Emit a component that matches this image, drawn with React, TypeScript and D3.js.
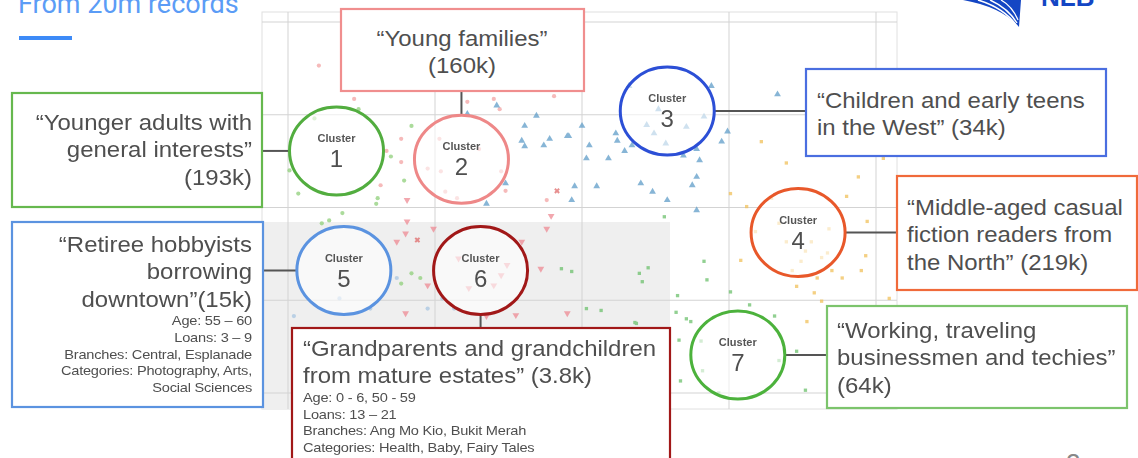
import * as d3 from "d3";

// ---- scatter data (component space, gridlines at -2..2) ----
const gridTicks = [-2, -1, 0, 1, 2];

const cluster1Points: [number, number][] = [
  [-1.16, 0.88], [-1.3, 0.55], [-1.99, 0.4], [-1.39, 0.1], [-1.21, 0.29], [-1.72, -0.14],
  [-1.77, -0.17], [-1.63, -0.06], [-1.4, 0.04], [-1.16, -0.71], [-1.1, -0.76], [-1.23, -0.82],
  [-1.52, 1.06], [-1.82, 0.96], [-1.93, 0.15],
];
const cluster2Points: [number, number][] = [
  [-1.79, 1.53], [-1.55, 1.17], [-1.23, 0.74], [-1.23, 0.49], [-1.33, 0.61], [-1.37, 0.24],
  [-0.78, 1.14], [-0.6, 1.17], [-0.56, 1.06], [-0.19, 1.2], [-0.55, 0.39], [-0.52, 0.18],
  [-0.24, 0.08], [-0.85, 0.1], [-0.93, 0.17], [-0.96, 0.39], [-1.05, 0.42], [-0.97, 0.74], [-0.7, 0.63],
];
const cluster2Crosses: [number, number][] = [[-0.17, 0.18], [-1.12, -0.35]];
const cluster3Points: [number, number][] = [
  [1.33, 1.22], [0.0, 0.88], [-0.09, 0.77], [0.05, 0.67], [0.03, 0.53], [0.23, 0.8], [0.24, 0.72],
  [0.29, 0.61], [0.34, 0.67], [0.44, 0.89], [0.57, 0.69], [0.69, 0.56], [0.78, 0.63], [0.8, 0.51],
  [0.95, 0.71], [0.99, 0.82], [0.83, 0.98], [0.88, 1.31], [0.32, 1.31], [-0.05, 0.23], [0.1, 0.23],
  [0.4, 0.26], [0.48, 0.17], [0.58, 0.08], [0.75, 0.24], [0.78, 0.33], [0.78, -0.03], [-0.07, 0.08],
  [-0.78, 1.01], [-0.58, 1.1], [-0.39, 0.88], [-0.31, 0.99], [-0.41, 0.72], [-0.39, 0.66], [-0.1, 0.77],
  [-0.52, 0.26], [-0.65, 0.04], [-0.22, 0.74], [-0.26, 0.67], [0.18, 0.53], [0.52, 1.06], [0.49, 0.8], [0.71, 0.87],
];
const cluster4Points: [number, number][] = [
  [1.22, 0.71], [1.39, 0.48], [1.88, 0.33], [1.01, 0.15], [1.12, 0.01], [1.8, 0.12], [1.94, -0.15],
  [1.29, 0.1], [1.08, -0.57], [1.93, -0.52], [1.9, -0.68], [1.77, -0.76], [1.7, -0.68], [1.6, -0.76],
  [1.58, -0.92], [1.46, -0.85], [1.43, -0.68], [1.63, -0.54], [1.67, -0.49], [1.52, -0.47], [1.49, -0.58],
  [1.18, -0.26], [1.39, -0.37], [1.56, -0.37], [1.53, -1.23], [1.63, -1.01], [2.05, 0.53], [2.09, -0.98],
  [1.34, -0.17], [1.68, -0.23],
];
const cluster5Points: [number, number][] = [
  [-1.26, -0.76], [-1.05, -1.09], [-1.44, -1.09], [-1.96, -1.17], [-0.95, -0.98], [-0.87, -1.09], [-1.65, -0.98],
];
const cluster6Points: [number, number][] = [
  [-1.19, 0.08], [-0.21, -0.09], [-1.19, -0.15], [-1.01, -0.23], [-0.24, -0.23], [-1.26, -0.37],
  [-1.2, -0.28], [-1.05, -0.84], [-0.28, -0.66], [-0.41, -0.37], [-1.2, -1.14], [-0.45, -1.16],
  [-0.1, -1.14], [-0.65, -1.17], [-0.55, -0.73], [-0.6, -0.84], [-0.51, -0.62], [-0.84, -0.55], [-0.77, -0.87],
];
const cluster7Points: [number, number][] = [
  [0.56, -0.1], [0.83, -0.58], [0.85, -0.78], [1.01, -0.91], [0.65, -0.95], [0.39, -0.71], [0.45, -0.65],
  [0.41, -0.8], [0.03, -1.09], [0.13, -1.11], [0.36, -1.24], [0.64, -1.13], [0.71, -1.2], [0.74, -1.23],
  [0.66, -1.43], [0.67, -1.87], [1.14, -1.05], [1.31, -1.17], [1.46, -1.55], [1.52, -1.97], [0.82, -1.76],
  [0.81, -1.44], [1.34, -1.65], [-0.14, -0.66], [-0.07, -0.69], [0.37, -1.25], [0.93, -2.0],
];

const clusterIds = [1, 2, 3, 4, 5, 6, 7];
const clusterCenters: [number, number][] = [
  [-1.67, 0.61], [-0.82, 0.52], [0.58, 1.04], [1.47, -0.27], [-1.62, -0.68], [-0.69, -0.68], [1.06, -1.59],
];
const clusterColors = ["#52ad3f", "#ee8888", "#2c4fd6", "#e8582a", "#5b93e0", "#a11818", "#4cb23c"];
const boxColors = ["#66b84e", "#f08e8e", "#4a6ee0", "#f06a3a", "#5b93e0", "#a11818", "#7cc46c"];

const clusterTitles = [
  ["\u201cYounger adults with", "general interests\u201d", "(193k)"],
  ["\u201cYoung families\u201d", "(160k)"],
  ["\u201cChildren and early teens", "in the West\u201d (34k)"],
  ["\u201cMiddle-aged casual", "fiction readers from", "the North\u201d (219k)"],
  ["\u201cRetiree hobbyists", "borrowing", "downtown\u201d(15k)"],
  ["\u201cGrandparents and grandchildren", "from mature estates\u201d (3.8k)"],
  ["\u201cWorking, traveling", "businessmen and techies\u201d", "(64k)"],
];
const clusterDetails: string[][] = [
  [], [], [], [],
  ["Age: 55 \u2013 60", "Loans: 3 \u2013 9", "Branches: Central, Esplanade", "Categories: Photography, Arts,", "Social Sciences"],
  ["Age: 0 - 6, 50 - 59", "Loans: 13 \u2013 21", "Branches: Ang Mo Kio, Bukit Merah", "Categories: Health, Baby, Fairy Tales"],
  [],
];

// ---- layout ----
const W = 1138;
const H = 458;
const panel = { left: 262, right: 897, top: 12, bottom: 409 };
const x = d3.scaleLinear().domain([-2, 2]).range([288, 876]);
const y = d3.scaleLinear().domain([-2, 2]).range([393, 22]);
const RX = 47;
const RY = 44;
const STRETCH = 1.09; // the slide text is slightly wider than the font

type Box = { x: number; y: number; w: number; h: number; anchor: "start" | "middle" | "end"; tx: number; base: number; side: "left" | "right" | "top" | "bottom" };
const boxes: Box[] = [
  { x: 12, y: 93, w: 250, h: 114, anchor: "end", tx: 252, base: 130, side: "left" },
  { x: 341, y: 9, w: 243, h: 82, anchor: "middle", tx: 462, base: 46, side: "top" },
  { x: 806, y: 69, w: 300, h: 87, anchor: "start", tx: 817, base: 108, side: "right" },
  { x: 897, y: 176, w: 240, h: 114, anchor: "start", tx: 907, base: 215, side: "right" },
  { x: 12, y: 222, w: 251, h: 185, anchor: "end", tx: 252, base: 252, side: "left" },
  { x: 292, y: 328, w: 378, h: 140, anchor: "start", tx: 303, base: 356, side: "bottom" },
  { x: 827, y: 306, w: 300, h: 102, anchor: "start", tx: 837, base: 338, side: "right" },
];

const triPath = d3.symbol().type(d3.symbolTriangle).size(20)() || "";
const sqPath = d3.symbol().type(d3.symbolSquare).size(11)() || "";
const circPath = d3.symbol().type(d3.symbolCircle).size(14)() || "";
const crossPath = d3.symbol().type(d3.symbolCross).size(20)() || "";

const textGray = "#4f4f4f";
const font = "'Liberation Sans', Arial, sans-serif";

const PointLayer = ({ pts, path, color, rotate = 0, opacity = 0.75 }: { pts: [number, number][]; path: string; color: string; rotate?: number; opacity?: number }) => (
  <g fill={color} opacity={opacity}>
    {pts.map((p, i) => (
      <path key={i} d={path} transform={`translate(${x(p[0])},${y(p[1])}) rotate(${rotate})`} />
    ))}
  </g>
);

export default function App() {
  return (
    <svg width={W} height={H} style={{ position: "absolute", left: 0, top: 0, background: "#fff" }} fontFamily={font}>
      {/* title */}
      <text x={18} y={13} fontSize={27} fill="#5b9cf6" fontFamily="Roboto, sans-serif">From 20m records</text>
      <rect x={19} y={36} width={53} height={4} fill="#3d8af7" />

      {/* logo */}
      <path d="M963,0 L1021,0 L1019,27 Q1002,7 963,0 Z" fill="#1446c4" />
      <path d="M978,0 Q1004,8 1016,25" fill="none" stroke="#fff" strokeWidth={1.6} />
      <path d="M990,0 Q1008,8 1017,23" fill="none" stroke="#fff" strokeWidth={1.4} />
      <path d="M1001,0 Q1012,6 1018,20" fill="none" stroke="#fff" strokeWidth={1.2} />
      <text x={1041} y={6} fontSize={26} fontWeight="bold" fill="#1446c4">NLB</text>

      {/* panel */}
      <rect x={panel.left} y={panel.top} width={panel.right - panel.left} height={panel.bottom - panel.top} fill="#fff" stroke="#e0e0e0" />
      <rect x={panel.left} y={222} width={670 - panel.left} height={panel.bottom - 222} fill="#efefef" />
      <g stroke="#d3d3d3" strokeWidth={1}>
        {gridTicks.map((t) => (
          <line key={"v" + t} x1={x(t)} x2={x(t)} y1={panel.top} y2={panel.bottom} />
        ))}
        {gridTicks.map((t) => (
          <line key={"h" + t} x1={panel.left} x2={panel.right} y1={y(t)} y2={y(t)} />
        ))}
      </g>

      {/* points */}
      <PointLayer pts={cluster1Points} path={circPath} color="#8fd07a" />
      <PointLayer pts={cluster5Points} path={circPath} color="#a9c6e2" />
      <PointLayer pts={cluster2Points} path={circPath} color="#f3a3a3" />
      <PointLayer pts={cluster2Crosses} path={crossPath} color="#e06a6a" rotate={45} />
      <PointLayer pts={cluster6Points} path={triPath} color="#ee8a94" rotate={180} />
      <PointLayer pts={cluster3Points} path={triPath} color="#5f9dc8" />
      <PointLayer pts={cluster4Points} path={sqPath} color="#f1c05a" />
      <PointLayer pts={cluster7Points} path={sqPath} color="#6cc06c" />

      {/* connectors */}
      <g stroke="#555" strokeWidth={2}>
        {boxes.map((b, i) => {
          const cx = x(clusterCenters[i][0]);
          const cy = y(clusterCenters[i][1]);
          if (b.side === "left") return <line key={i} x1={b.x + b.w} x2={cx - RX} y1={cy} y2={cy} />;
          if (b.side === "right") return <line key={i} x1={cx + RX} x2={b.x} y1={cy} y2={cy} />;
          if (b.side === "top") return <line key={i} x1={cx} x2={cx} y1={b.y + b.h} y2={cy - RY} />;
          return <line key={i} x1={cx} x2={cx} y1={cy + RY} y2={b.y} />;
        })}
      </g>

      {/* cluster circles */}
      {clusterIds.map((id, i) => {
        const cx = x(clusterCenters[i][0]);
        const cy = y(clusterCenters[i][1]);
        return (
          <g key={id}>
            <ellipse cx={cx} cy={cy} rx={RX} ry={RY} fill="#fff" fillOpacity={0.6} stroke={clusterColors[i]} strokeWidth={3} />
            <text x={cx} y={cy - 9} textAnchor="middle" fontSize={11} fontWeight="bold" fill="#555">Cluster</text>
            <text x={cx} y={cy + 16} textAnchor="middle" fontSize={24} fill={textGray}>{id}</text>
          </g>
        );
      })}

      {/* annotation boxes */}
      {boxes.map((b, i) => {
        const big = clusterTitles[i];
        const small = clusterDetails[i];
        const bigEnd = b.base + (big.length - 1) * 27.5;
        return (
          <g key={i}>
            <rect x={b.x} y={b.y} width={b.w} height={b.h} fill="#fff" stroke={boxColors[i]} strokeWidth={2.2} />
            <g transform={`translate(${b.tx},0) scale(${STRETCH},1)`}>
              <text textAnchor={b.anchor} fontSize={22} fill={textGray}>
                {big.map((l, j) => (
                  <tspan key={j} x={0} y={b.base + j * 27.5}>{l}</tspan>
                ))}
              </text>
              <text textAnchor={b.anchor} fontSize={13.4} fill={textGray} letterSpacing={-0.2}>
                {small.map((l, j) => (
                  <tspan key={j} x={0} y={bigEnd + 18.5 + j * 16.6}>{l}</tspan>
                ))}
              </text>
            </g>
          </g>
        );
      })}

      {/* page number */}
      <text x={1066} y={472} fontSize={26} fill="#888">2</text>
    </svg>
  );
}
